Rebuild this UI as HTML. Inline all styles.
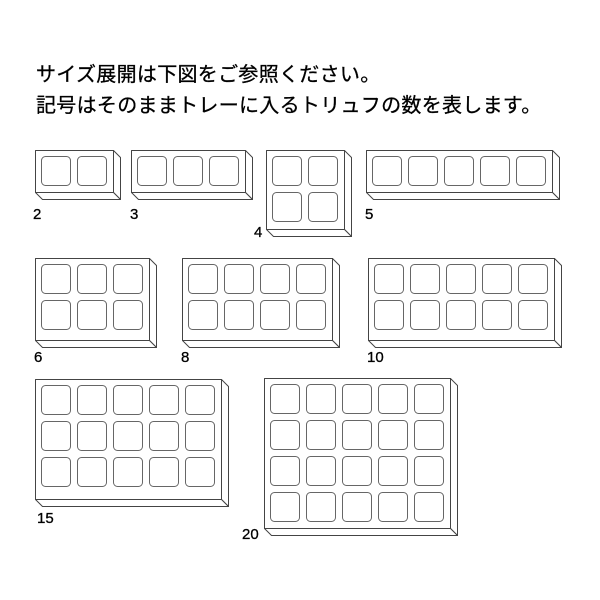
<!DOCTYPE html>
<html><head><meta charset="utf-8"><style>
html,body{margin:0;padding:0;background:#fff;width:600px;height:600px;overflow:hidden}
.t{position:absolute;left:36px;font-family:"Liberation Sans","Noto Sans CJK JP",sans-serif;font-size:20px;color:#000;white-space:nowrap;letter-spacing:0.3px;-webkit-text-stroke:0.3px #000}
</style></head><body>
<div class="t" style="top:58px">サイズ展開は下図をご参照ください。</div>
<div class="t" style="top:89px">記号はそのままトレーに入るトリュフの数を表します。</div>
<svg width="600" height="600" style="position:absolute;left:0;top:0" xmlns="http://www.w3.org/2000/svg">
<defs>
<pattern id="c" patternUnits="userSpaceOnUse" x="0" y="0" width="36" height="36">
<rect x="6" y="6" width="29" height="29" rx="4" fill="#fff" stroke="#666" stroke-width="1"/>
</pattern>
</defs>
<g fill="#fff" stroke="#444" stroke-width="1" stroke-linejoin="round">
<g transform="translate(35.5,150.5)"><polygon points="78,0 85,7 85,49 78,42"/><polygon points="0,42 78,42 85,49 7,49"/><rect width="78" height="42"/><rect width="72" height="36" fill="url(#c)" stroke="none"/></g>
<g transform="translate(131.5,150.5)"><polygon points="114,0 121,7 121,49 114,42"/><polygon points="0,42 114,42 121,49 7,49"/><rect width="114" height="42"/><rect width="108" height="36" fill="url(#c)" stroke="none"/></g>
<g transform="translate(266.5,150.5)"><polygon points="78,0 85,7 85,86 78,79"/><polygon points="0,79 78,79 85,86 7,86"/><rect width="78" height="79"/><rect width="72" height="72" fill="url(#c)" stroke="none"/></g>
<g transform="translate(366.5,150.5)"><polygon points="186,0 193,7 193,49 186,42"/><polygon points="0,42 186,42 193,49 7,49"/><rect width="186" height="42"/><rect width="180" height="36" fill="url(#c)" stroke="none"/></g>
<g transform="translate(35.5,258.5)"><polygon points="114,0 121,7 121,89 114,82"/><polygon points="0,82 114,82 121,89 7,89"/><rect width="114" height="82"/><rect width="108" height="72" fill="url(#c)" stroke="none"/></g>
<g transform="translate(182.5,258.5)"><polygon points="150,0 157,7 157,89 150,82"/><polygon points="0,82 150,82 157,89 7,89"/><rect width="150" height="82"/><rect width="144" height="72" fill="url(#c)" stroke="none"/></g>
<g transform="translate(368.5,258.5)"><polygon points="186,0 193,7 193,89 186,82"/><polygon points="0,82 186,82 193,89 7,89"/><rect width="186" height="82"/><rect width="180" height="72" fill="url(#c)" stroke="none"/></g>
<g transform="translate(35.5,379.5)"><polygon points="186,0 193,7 193,127 186,120"/><polygon points="0,120 186,120 193,127 7,127"/><rect width="186" height="120"/><rect width="180" height="108" fill="url(#c)" stroke="none"/></g>
<g transform="translate(264.5,378.5)"><polygon points="186,0 193,7 193,157 186,150"/><polygon points="0,150 186,150 193,157 7,157"/><rect width="186" height="150"/><rect width="180" height="144" fill="url(#c)" stroke="none"/></g>
</g>
<g font-family="Liberation Sans, sans-serif" font-size="15" fill="#000" stroke="#000" stroke-width="0.3">
<text x="33" y="219">2</text>
<text x="130" y="219">3</text>
<text x="254" y="237">4</text>
<text x="365" y="219">5</text>
<text x="34" y="362">6</text>
<text x="181" y="362">8</text>
<text x="367" y="362">10</text>
<text x="37" y="523">15</text>
<text x="242" y="539">20</text>
</g>
</svg>
</body></html>
